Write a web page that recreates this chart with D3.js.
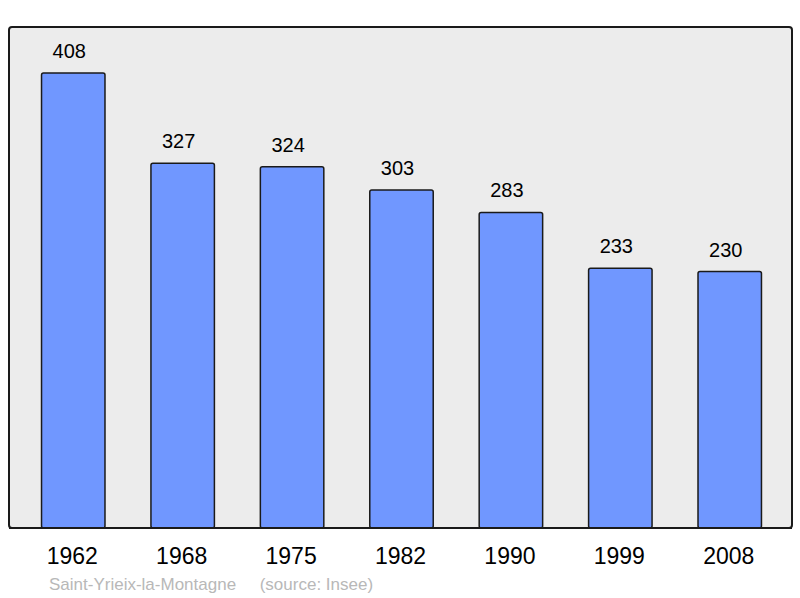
<!DOCTYPE html>
<html><head><meta charset="utf-8">
<script src="https://cdn.jsdelivr.net/npm/d3@7"></script>
<style>body{margin:0;background:#fff}svg{display:block}</style>
</head><body>
<script>
const years = ["1962","1968","1975","1982","1990","1999","2008"];
const population = [408,327,324,303,283,233,230];
const caption = "Saint-Yrieix-la-Montagne     (source: Insee)";

const W = 800, H = 598;
const svg = d3.select("body").append("svg").attr("width", W).attr("height", H);
const panel = {x0: 9, y0: 27, x1: 792, y1: 528};

svg.append("rect").attr("x", panel.x0).attr("y", panel.y0)
  .attr("width", panel.x1 - panel.x0).attr("height", panel.y1 - panel.y0)
  .attr("rx", 3).attr("fill", "#ececec").attr("stroke", "#1a1a1a").attr("stroke-width", 2);

const x = d3.scaleBand().domain(years).range([panel.x0 + 0.8, panel.x1 + 1.2])
  .paddingInner(0.42).paddingOuter(0.29);
const y = d3.scaleLinear().domain([0, 408]).range([panel.y1, 73]);

const data = years.map((yr, i) => ({yr, v: population[i]}));

svg.selectAll("rect.bar").data(data).enter().append("rect").attr("class", "bar")
  .attr("x", d => x(d.yr)).attr("y", d => y(d.v))
  .attr("width", x.bandwidth()).attr("height", d => y(0) - y(d.v))
  .attr("rx", 2)
  .attr("fill", "#7097ff").attr("stroke", "#1a1a1a").attr("stroke-width", 1.5);

svg.append("line").attr("x1", panel.x0).attr("x2", panel.x1).attr("y1", panel.y1).attr("y2", panel.y1)
  .attr("stroke", "#1a1a1a").attr("stroke-width", 2);

svg.selectAll("text.val").data(data).enter().append("text").attr("class", "val")
  .attr("x", d => x(d.yr) + x.bandwidth() / 2 - 4).attr("y", d => y(d.v) - 15)
  .attr("text-anchor", "middle").attr("font-family", "Liberation Sans, Arial, sans-serif")
  .attr("font-size", 20).attr("fill", "#000").text(d => d.v);

const xAxis = d3.axisBottom(x).tickSize(0).tickPadding(0);
const ax = svg.append("g").attr("transform", `translate(0,${panel.y1})`).call(xAxis);
ax.select(".domain").remove();
ax.selectAll("text").attr("font-family", "Liberation Sans, Arial, sans-serif")
  .attr("font-size", 23).attr("fill", "#000").attr("dy", null).attr("y", 36).attr("dx", -1);

svg.append("text").attr("x", 49).attr("y", 590)
  .attr("font-family", "Liberation Sans, Arial, sans-serif").attr("font-size", 17)
  .attr("fill", "#b8b8b8").attr("xml:space", "preserve").style("white-space", "pre")
  .text(caption);
</script>
</body></html>
